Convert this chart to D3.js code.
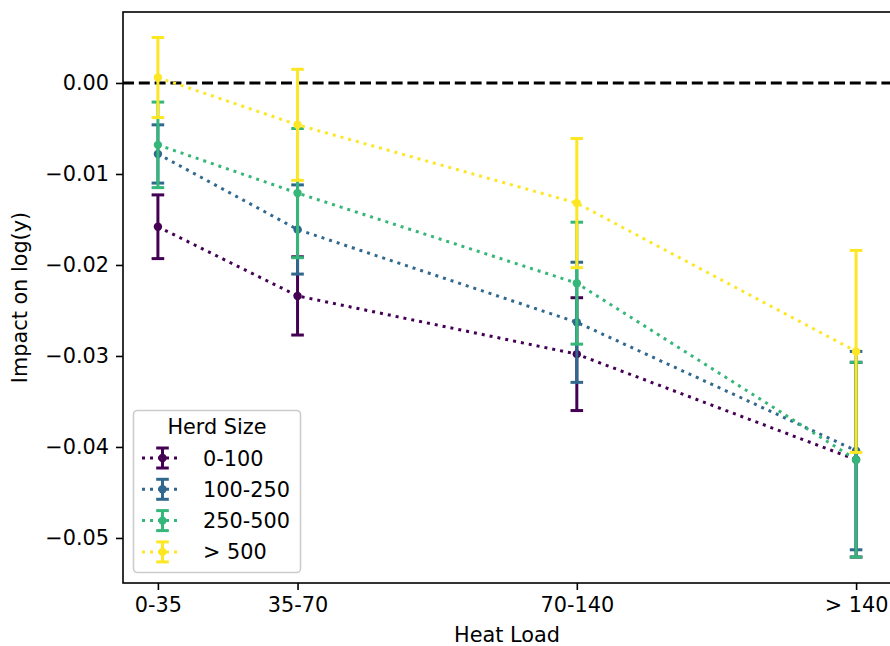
<!DOCTYPE html>
<html>
<head>
<meta charset="utf-8">
<script src="https://cdn.jsdelivr.net/npm/d3@7"></script>
<style>
  body { margin: 0; background: #fff; }
  svg text { font-family: "DejaVu Sans", sans-serif; fill: #000; }
</style>
</head>
<body>
<div id="viz"></div>
<script>
// Heat load categories (x positions follow the original numeric spacing 0,1,3,5)
var categories = ["0-35", "35-70", "70-140", "> 140"];
var categoryPos = [0, 1, 3, 5];

// Herd size series
var herdSizes = ["0-100", "100-250", "250-500", "> 500"];
var herdColors = ["#440154", "#31688e", "#35b779", "#fde725"];

// Estimated impact per series, one value per heat load category
var impact0_100   = [-0.0158, -0.0234, -0.0298, -0.0414];
var impact100_250 = [-0.0078, -0.0161, -0.0263, -0.0404];
var impact250_500 = [-0.0068, -0.0121, -0.0220, -0.0414];
var impactOver500 = [0.0006, -0.0046, -0.0132, -0.0295];

// Half width of each error bar
var err0_100   = [0.0035, 0.0043, 0.0062, 0.0107];
var err100_250 = [0.0032, 0.0049, 0.0066, 0.0109];
var err250_500 = [0.0047, 0.0071, 0.0067, 0.0107];
var errOver500 = [0.0044, 0.0061, 0.0071, 0.0111];

var yTicks = [0, -0.01, -0.02, -0.03, -0.04, -0.05];

var series = [
  { name: herdSizes[0], color: herdColors[0], values: impact0_100,   errs: err0_100 },
  { name: herdSizes[1], color: herdColors[1], values: impact100_250, errs: err100_250 },
  { name: herdSizes[2], color: herdColors[2], values: impact250_500, errs: err250_500 },
  { name: herdSizes[3], color: herdColors[3], values: impactOver500, errs: errOver500 }
];

// figure size and plot area (the right spine falls just outside the picture)
var width = 890, height = 646;
var plotLeft = 123, plotTop = 12, plotRight = 891, plotBottom = 583;
var fontSize = "20.8px";

var svg = d3.select("#viz")
            .append("svg")
              .attr("width", width)
              .attr("height", height);

var x = d3.scaleLinear().domain([-0.25, 5.25]).range([plotLeft, plotRight]);
var y = d3.scaleLinear().domain([-0.05495, 0.0078]).range([plotBottom, plotTop]);

var lw = 3;       // line width of the data lines and bars
var cap = 6.3;    // half width of the caps
var rMark = 4.2;

// zero reference line
svg.append("line")
   .attr("x1", plotLeft).attr("x2", plotRight)
   .attr("y1", y(0)).attr("y2", y(0))
   .style("stroke", "#000")
   .style("stroke-width", lw)
   .style("stroke-dasharray", "11,4.8");

var line = d3.line()
             .x(function(d, i) { return x(categoryPos[i]); })
             .y(function(d) { return y(d); });

// every series: dotted line, error bars with caps, then markers
series.forEach(function(s) {
  var g = svg.append("g");

  g.append("path")
   .attr("d", line(s.values))
   .style("fill", "none")
   .style("stroke", s.color)
   .style("stroke-width", lw)
   .style("stroke-dasharray", "3,5");

  s.values.forEach(function(v, i) {
    var cx = x(categoryPos[i]);
    var hi = y(v + s.errs[i]), lo = y(v - s.errs[i]);
    g.append("line")
     .attr("x1", cx).attr("x2", cx).attr("y1", hi).attr("y2", lo)
     .style("stroke", s.color).style("stroke-width", lw);
    [hi, lo].forEach(function(cy) {
      g.append("line")
       .attr("x1", cx - cap).attr("x2", cx + cap).attr("y1", cy).attr("y2", cy)
       .style("stroke", s.color).style("stroke-width", lw);
    });
  });

  g.selectAll("circle")
   .data(s.values)
   .enter().append("circle")
     .attr("cx", function(d, i) { return x(categoryPos[i]); })
     .attr("cy", function(d) { return y(d); })
     .attr("r", rMark)
     .style("fill", s.color);
});

// frame
svg.append("rect")
   .attr("x", plotLeft).attr("y", plotTop)
   .attr("width", plotRight - plotLeft).attr("height", plotBottom - plotTop)
   .style("fill", "none")
   .style("stroke", "#000")
   .style("stroke-width", 1.6);

// axes
var xAxis = d3.axisBottom(x)
              .tickValues(categoryPos)
              .tickFormat(function(d, i) { return categories[i]; })
              .tickSize(7).tickPadding(7);
var yAxis = d3.axisLeft(y)
              .tickValues(yTicks)
              .tickFormat(function(d) { return d3.format(".2f")(d).replace("-", "\u2212"); })
              .tickSize(7).tickPadding(7);

var gx = svg.append("g").attr("transform", "translate(0," + plotBottom + ")").call(xAxis);
var gy = svg.append("g").attr("transform", "translate(" + plotLeft + ",0)").call(yAxis);
[gx, gy].forEach(function(g) {
  g.select(".domain").remove();
  g.selectAll(".tick line").style("stroke", "#000").style("stroke-width", 1.6);
  g.selectAll(".tick text").style("font-size", fontSize).style("font-family", "DejaVu Sans");
});

svg.append("text")
   .attr("x", (plotLeft + plotRight) / 2).attr("y", 642)
   .attr("text-anchor", "middle")
   .style("font-size", fontSize)
   .text("Heat Load");

svg.append("text")
   .attr("transform", "translate(27," + ((plotTop + plotBottom) / 2) + ") rotate(-90)")
   .attr("text-anchor", "middle")
   .style("font-size", fontSize)
   .text("Impact on log(y)");

// legend
var lg = svg.append("g");
lg.append("rect")
  .attr("x", 133.5).attr("y", 410.5)
  .attr("width", 167).attr("height", 162)
  .attr("rx", 4)
  .style("fill", "#fff").style("fill-opacity", 0.8)
  .style("stroke", "#cccccc").style("stroke-width", 1.6);

lg.append("text")
  .attr("x", 217).attr("y", 434)
  .attr("text-anchor", "middle")
  .style("font-size", fontSize)
  .text("Herd Size");

series.forEach(function(s, i) {
  var cy = 458 + i * 31.3;
  var row = lg.append("g");
  row.append("line")
     .attr("x1", 142).attr("x2", 182).attr("y1", cy).attr("y2", cy)
     .style("stroke", s.color).style("stroke-width", lw)
     .style("stroke-dasharray", "3,5");
  row.append("line")
     .attr("x1", 162.5).attr("x2", 162.5).attr("y1", cy - 10).attr("y2", cy + 10)
     .style("stroke", s.color).style("stroke-width", lw);
  [cy - 10, cy + 10].forEach(function(yy) {
    row.append("line")
       .attr("x1", 162.5 - cap).attr("x2", 162.5 + cap).attr("y1", yy).attr("y2", yy)
       .style("stroke", s.color).style("stroke-width", lw);
  });
  row.append("circle")
     .attr("cx", 162.5).attr("cy", cy).attr("r", rMark)
     .style("fill", s.color);
  row.append("text")
     .attr("x", 203).attr("y", cy + 7.5)
     .style("font-size", fontSize)
     .text(s.name);
});
</script>
</body>
</html>
